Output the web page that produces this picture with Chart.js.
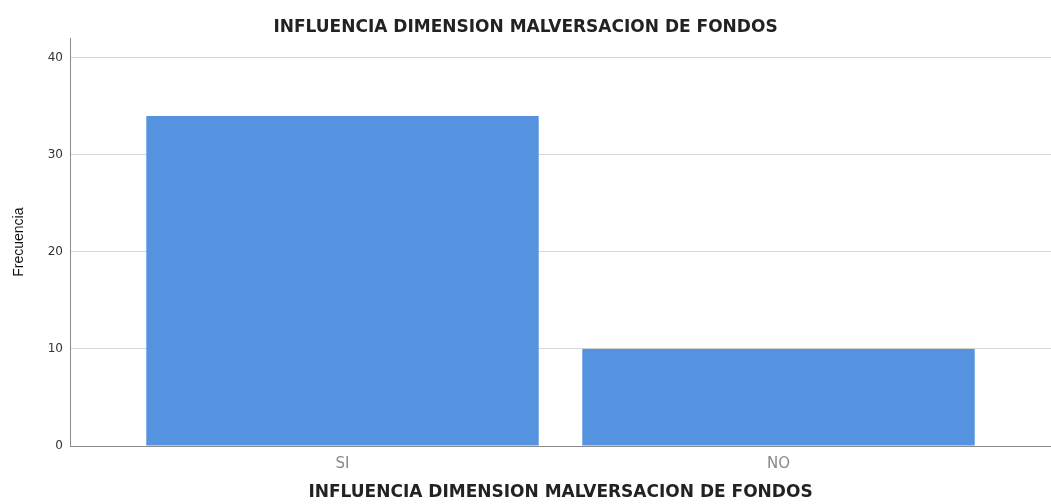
<!DOCTYPE html>
<html>
<head>
<meta charset="utf-8">
<script src="https://cdn.jsdelivr.net/npm/chart.js@4/dist/chart.umd.min.js"></script>
<style>
  html, body { margin: 0; padding: 0; background: #fff; }
  #wrap { width: 1051px; height: 504px; }
</style>
</head>
<body>
<div id="wrap"><canvas id="myChart"></canvas></div>
<script>
const categories = ['SI', 'NO'];
const frecuencia = [34, 10];
const yTicks = [0, 10, 20, 30, 40];

const chartTitle = 'INFLUENCIA DIMENSION MALVERSACION DE FONDOS';

const ctx = document.getElementById('myChart').getContext('2d');

const config = {
  type: 'bar',
  data: {
    datasets: [{
      label: 'Frecuencia',
      data: categories.map((c, i) => ({ x: i + 1, y: frecuencia[i] })),
      backgroundColor: '#5592e0',
      borderWidth: 0,
      categoryPercentage: 1,
      barPercentage: 0.9
    }]
  },
  options: {
    responsive: true,
    maintainAspectRatio: false,
    animation: false,
    plugins: {
      legend: { display: false },
      tooltip: { enabled: false },
      title: {
        display: true,
        text: chartTitle,
        color: '#222',
        font: { family: 'DejaVu Sans', size: 17, weight: 'bold' },
        padding: { top: 17, bottom: 1 }
      }
    },
    scales: {
      x: {
        type: 'linear',
        offset: false,
        min: 0.375,
        max: 2.625,
        afterBuildTicks: (scale) => {
          scale.ticks = categories.map((c, i) => ({ value: i + 1 }));
        },
        afterFit: (scale) => { scale.height = 58; },
        grid: { display: false, drawTicks: false },
        border: { color: '#8a8a8a', width: 1 },
        ticks: {
          padding: 9,
          color: '#888',
          font: { family: 'DejaVu Sans', size: 15 },
          callback: (v) => categories[v - 1]
        },
        title: {
          display: true,
          text: chartTitle,
          color: '#222',
          font: { family: 'DejaVu Sans', size: 17, weight: 'bold' },
          padding: { top: 6, bottom: 1 }
        }
      },
      y: {
        min: 0,
        max: 42,
        afterBuildTicks: (scale) => {
          scale.ticks = yTicks.map(v => ({ value: v }));
        },
        afterFit: (scale) => { scale.width = 70; },
        grid: { color: '#d6d6d6', drawTicks: false },
        border: { color: '#8a8a8a', width: 1 },
        ticks: {
          padding: 7,
          color: '#333',
          font: { family: 'DejaVu Sans', size: 12 }
        },
        title: {
          display: true,
          text: 'Frecuencia',
          color: '#111',
          font: { family: 'Liberation Sans', size: 14 },
          padding: { top: 11, bottom: 0 }
        }
      }
    }
  }
};

new Chart(ctx, config);
</script>
</body>
</html>
